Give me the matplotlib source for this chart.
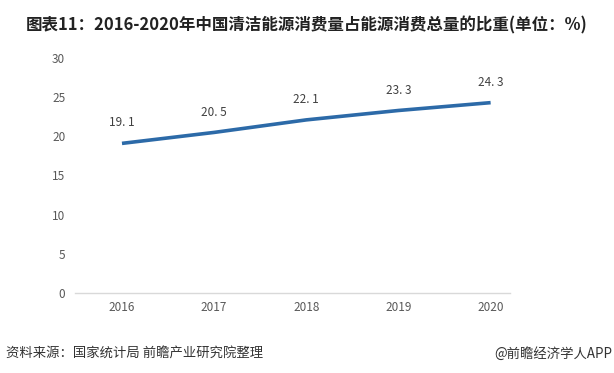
import matplotlib
matplotlib.use("Agg")
import matplotlib.pyplot as plt

plt.rcParams['font.family'] = ['Noto Sans CJK SC', 'DejaVu Sans']

years = ['2016', '2017', '2018', '2019', '2020']
share = [19.1, 20.5, 22.1, 23.3, 24.3]
labels = ['19. 1', '20. 5', '22. 1', '23. 3', '24. 3']

fig = plt.figure(figsize=(6.14, 3.73), dpi=100)
ax = fig.add_axes([0.1221, 0.2145, 0.7085, 0.63])

x = list(range(len(years)))
ax.plot(x, share, color='#2c6aa8', linewidth=2.6, solid_capstyle='butt')
for xi, v, t in zip(x, share, labels):
    ax.annotate(t, (xi, v), xytext=(0, 10), textcoords='offset points',
                ha='center', va='bottom', fontsize=8.5, color='#404040')

ax.set_xlim(-0.51, 4.21)
ax.set_ylim(0, 30)
ax.set_yticks(range(0, 31, 5))
ax.set_xticks(x)
ax.set_xticklabels(years)
ax.tick_params(axis='both', length=0, labelsize=8.5, colors='#595959')
ax.tick_params(axis='y', pad=7)
ax.tick_params(axis='x', pad=6)
for side in ['top', 'right', 'left']:
    ax.spines[side].set_visible(False)
ax.spines['bottom'].set_color('#d9d9d9')
ax.spines['bottom'].set_linewidth(1)

fig.text(0.5, 0.933, '图表11：2016-2020年中国清洁能源消费量占能源消费总量的比重(单位：%)',
         ha='center', va='center', fontsize=11.9, fontweight='bold', color='#222222')
fig.text(0.01, 0.052, '资料来源：国家统计局 前瞻产业研究院整理',
         ha='left', va='center', fontsize=9.6, color='#333333')
fig.text(0.997, 0.052, '@前瞻经济学人APP',
         ha='right', va='center', fontsize=9.6, color='#333333')

fig.savefig('out.png', dpi=100)
